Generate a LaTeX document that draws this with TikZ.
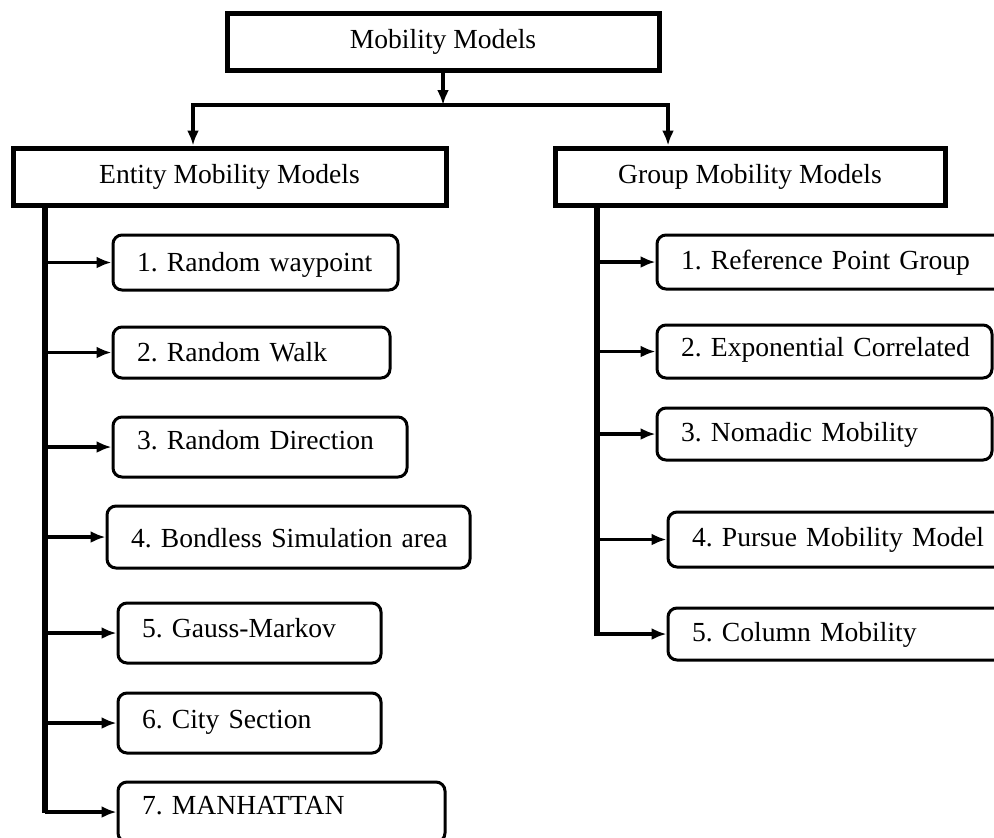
\documentclass[tikz,border=0pt]{standalone}
\usepackage{fontspec}
\setmainfont{Liberation Serif}
\usetikzlibrary{arrows.meta}

\begin{document}
\begin{tikzpicture}[x=0.5pt,y=-0.5pt,
        font=\fontsize{13.8}{16}\selectfont\frenchspacing,
        head/.style={draw,line width=2.5pt,inner sep=0pt,minimum height=28.5pt},
        item/.style={draw,line width=1.5pt,rounded corners=4.5pt,inner xsep=12pt,inner ysep=0pt,text height=10pt},
        link/.style={line width=1.6pt,-{Latex[length=7.5pt,width=6pt]}},
        trunk/.style={line width=2.6pt}]
            \useasboundingbox (0,0) rectangle (994,837);
            \node[head,minimum width=216pt] (top) at (443,42) {Mobility Models};
            \node[head,minimum width=216.5pt] (entity) at (229.5,176.5) {Entity Mobility Models};
            \node[head,minimum width=195pt] (group) at (750,176.5) {Group Mobility Models};
            \foreach \n/\cx/\cy/\w/\h/\d/\txt in {
                e1/255.5/262.5/118.5/27.5/1.5/{1. Random waypoint},
                e2/251.5/352.5/114.5/25.5/1.5/{2. Random Walk},
                e3/260/447/123/30/8/{3. Random Direction},
                e4/288.5/537/157.5/31/0/{4. Bondless Simulation area},
                e5/249.5/633/107.5/30/6/{5. Gauss-Markov},
                e6/249.5/723/107.5/30/5/{6. City Section},
                e7/281.5/812/139.5/30/8/{7. MANHATTAN},
                g1/831/262/150/27/3/{1. Reference Point Group},
                g2/824.5/351.5/143.5/26.5/5.5/{2. Exponential Correlated},
                g3/824.5/434/143.5/26/3/{3. Nomadic Mobility},
                g4/840/539.5/148/27.5/3.5/{4. Pursue Mobility Model},
                g5/840/634/148/26/3/{5. Column Mobility}}{
                \node[item,text width=\w pt,text depth=\d pt,minimum height=\h pt] (\n) at (\cx,\cy) {\mbox{\txt}};
            }
            \coordinate (split) at (443,105);
            \coordinate (lsplit) at (193,105);
            \coordinate (rsplit) at (668,105);
            \draw[link] (top) -- (split);
            \draw[link] (split) -| (lsplit |- entity.north);
            \draw[link] (split) -| (rsplit |- group.north);
            \coordinate (eend) at (45,813);
            \coordinate (gend) at (597,636);
            \draw[trunk] (entity.south -| eend) -- (eend);
            \draw[trunk] (group.south -| gend) -- (gend);
            \foreach \n in {e1,e2,e3,e4,e5,e6,e7}{
                \draw[link] (\n.west -| eend) -- (\n.west);
            }
            \foreach \n in {g1,g2,g3,g4,g5}{
                \draw[link] (\n.west -| gend) -- (\n.west);
            }
        \end{tikzpicture}
\end{document}
